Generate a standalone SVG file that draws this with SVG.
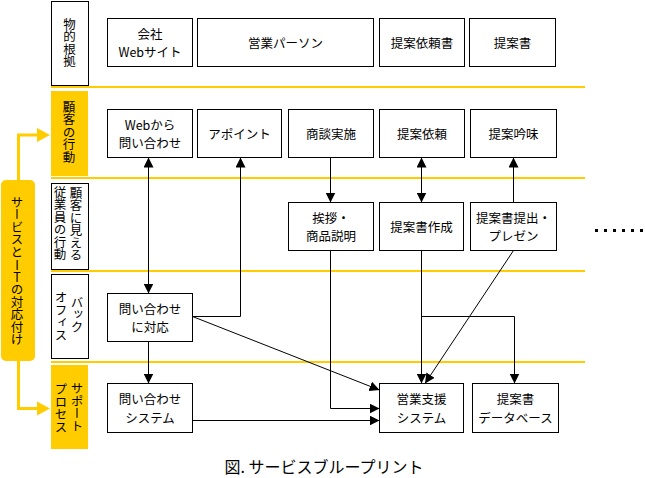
<svg xmlns="http://www.w3.org/2000/svg" width="645" height="478" viewBox="0 0 645 478">
<defs>
<marker id="ah" markerUnits="userSpaceOnUse" markerWidth="10" markerHeight="10" refX="10" refY="5" orient="auto-start-reverse"><path d="M0,0 L10,5 L0,10 z" fill="#000"/></marker>
<style>
text{font-family:"Noto Sans CJK JP","Noto Sans",sans-serif;fill:#000}
.n rect{fill:#fff;stroke:#000;stroke-width:1}
.n text{font-size:12.5px;text-anchor:middle;dominant-baseline:central}
.lb rect.o{fill:#fff;stroke:#000;stroke-width:1}
.lb rect.y{fill:#FFCC00;stroke:none}
.lb text{font-size:12.5px;writing-mode:vertical-rl;text-anchor:middle;dominant-baseline:central}
.sep{stroke:#FFCC00;stroke-width:2}
.c{fill:none;stroke:#000;stroke-width:1}
.c .a{marker-end:url(#ah)}
.c .b{marker-start:url(#ah);marker-end:url(#ah)}
</style>
</defs>
<rect width="645" height="478" fill="#fff"/>
<g id="lanes">
<line class="sep" x1="51" y1="87" x2="585" y2="87"/>
<line class="sep" x1="51" y1="178" x2="585" y2="178"/>
<line class="sep" x1="51" y1="271" x2="585" y2="271"/>
<line class="sep" x1="51" y1="362" x2="585" y2="362"/>
</g>
<g id="side-label">
<rect x="1" y="180" width="34" height="181" rx="5" fill="#FFCC00"/>
<path d="M18.5,180 V135 H38 M18.5,361 V408.5 H38" fill="none" stroke="#FFCC00" stroke-width="3"/>
<path d="M37,128 L50,135 L37,142 z M37,401.5 L50,408.5 L37,415.5 z" fill="#FFCC00"/>
<text x="17" y="270.5" style="font-size:12.5px;writing-mode:vertical-rl;text-anchor:middle;dominant-baseline:central">サービスと<tspan style="text-orientation:upright">IT</tspan>の対応付け</text>
</g>
<g id="lane-labels" class="lb">
<g id="lb1"><rect class="o" x="51.5" y="1.5" width="37" height="84"/><text x="69.5" y="42.5">物的根拠</text></g>
<g id="lb2"><rect class="y" x="51" y="91" width="37" height="85"/><text x="69" y="132">顧客の行動</text></g>
<g id="lb3"><rect class="o" x="51.5" y="183.5" width="37" height="86"/><text x="76" y="224">顧客に見える</text><text x="60" y="223">従業員の行動</text></g>
<g id="lb4"><rect class="o" x="51.5" y="274.5" width="37" height="84"/><text x="77" y="314.5">バック</text><text x="61" y="316">オフィス</text></g>
<g id="lb5"><rect class="y" x="51" y="365" width="37" height="84"/><text x="77" y="407">サポート</text><text x="61" y="408">プロセス</text></g>
</g>
<g id="connectors" class="c">
<line class="b" x1="148.5" y1="157.5" x2="148.5" y2="293.5"/>
<line class="a" x1="148.5" y1="341.5" x2="148.5" y2="383.5"/>
<path class="a" d="M192.5,316.5 H240.5 V157.5"/>
<line class="a" x1="192.5" y1="316.5" x2="379.5" y2="390"/>
<line class="a" x1="330.5" y1="157.5" x2="330.5" y2="202.5"/>
<path class="a" d="M330.5,250.5 V408.5 H379.5"/>
<line class="a" x1="192.5" y1="420.5" x2="379.5" y2="420.5"/>
<line class="b" x1="421.5" y1="157.5" x2="421.5" y2="202.5"/>
<line class="a" x1="421.5" y1="250.5" x2="421.5" y2="383.5"/>
<path class="a" d="M421.5,316.5 H514.5 V383.5"/>
<line class="a" x1="513.5" y1="202.5" x2="513.5" y2="157.5"/>
<line class="a" x1="513.5" y1="250.5" x2="425" y2="383.5"/>
</g>
<g class="n">
<g id="n-web"><rect x="107.5" y="18.5" width="85" height="48"/><text x="150" y="33.3">会社</text><text x="150" y="51.7">Webサイト</text></g>
<g id="n-sales"><rect x="197.5" y="18.5" width="176" height="48"/><text x="285.5" y="42.5">営業パーソン</text></g>
<g id="n-rfpdoc"><rect x="379.5" y="18.5" width="85" height="48"/><text x="422" y="42.5">提案依頼書</text></g>
<g id="n-proposal"><rect x="469.5" y="18.5" width="86" height="48"/><text x="512.5" y="42.5">提案書</text></g>
<g id="n-webinq"><rect x="107.5" y="109.5" width="85" height="48"/><text x="150" y="124.3">Webから</text><text x="150" y="142.7">問い合わせ</text></g>
<g id="n-appt"><rect x="197.5" y="109.5" width="84" height="48"/><text x="239.5" y="133.5">アポイント</text></g>
<g id="n-meet"><rect x="288.5" y="109.5" width="85" height="48"/><text x="331" y="133.5">商談実施</text></g>
<g id="n-rfp"><rect x="379.5" y="109.5" width="85" height="48"/><text x="422" y="133.5">提案依頼</text></g>
<g id="n-review"><rect x="470.5" y="109.5" width="86" height="48"/><text x="513.5" y="133.5">提案吟味</text></g>
<g id="n-greet"><rect x="288.5" y="202.5" width="85" height="48"/><text x="331" y="217.3">挨拶・</text><text x="331" y="235.7">商品説明</text></g>
<g id="n-create"><rect x="379.5" y="202.5" width="84" height="48"/><text x="421.5" y="226.5">提案書作成</text></g>
<g id="n-present"><rect x="470.5" y="202.5" width="86" height="48"/><text x="513.5" y="217.3">提案書提出・</text><text x="513.5" y="235.7">プレゼン</text></g>
<g id="n-handle"><rect x="107.5" y="293.5" width="85" height="48"/><text x="150" y="308.3">問い合わせ</text><text x="150" y="326.7">に対応</text></g>
<g id="n-inqsys"><rect x="107.5" y="383.5" width="85" height="49"/><text x="150" y="398.8">問い合わせ</text><text x="150" y="417.2">システム</text></g>
<g id="n-sfa"><rect x="379.5" y="383.5" width="84" height="49"/><text x="421.5" y="398.8">営業支援</text><text x="421.5" y="417.2">システム</text></g>
<g id="n-db"><rect x="472.5" y="383.5" width="86" height="49"/><text x="515.5" y="398.8">提案書</text><text x="515.5" y="417.2">データベース</text></g>
</g>
<line id="continue" x1="595" y1="230.5" x2="645" y2="230.5" stroke="#000" stroke-width="3" stroke-dasharray="3 6"/>
<text id="caption" x="324" y="466" style="font-size:16px;text-anchor:middle;dominant-baseline:central">図. サービスブループリント</text>
</svg>
